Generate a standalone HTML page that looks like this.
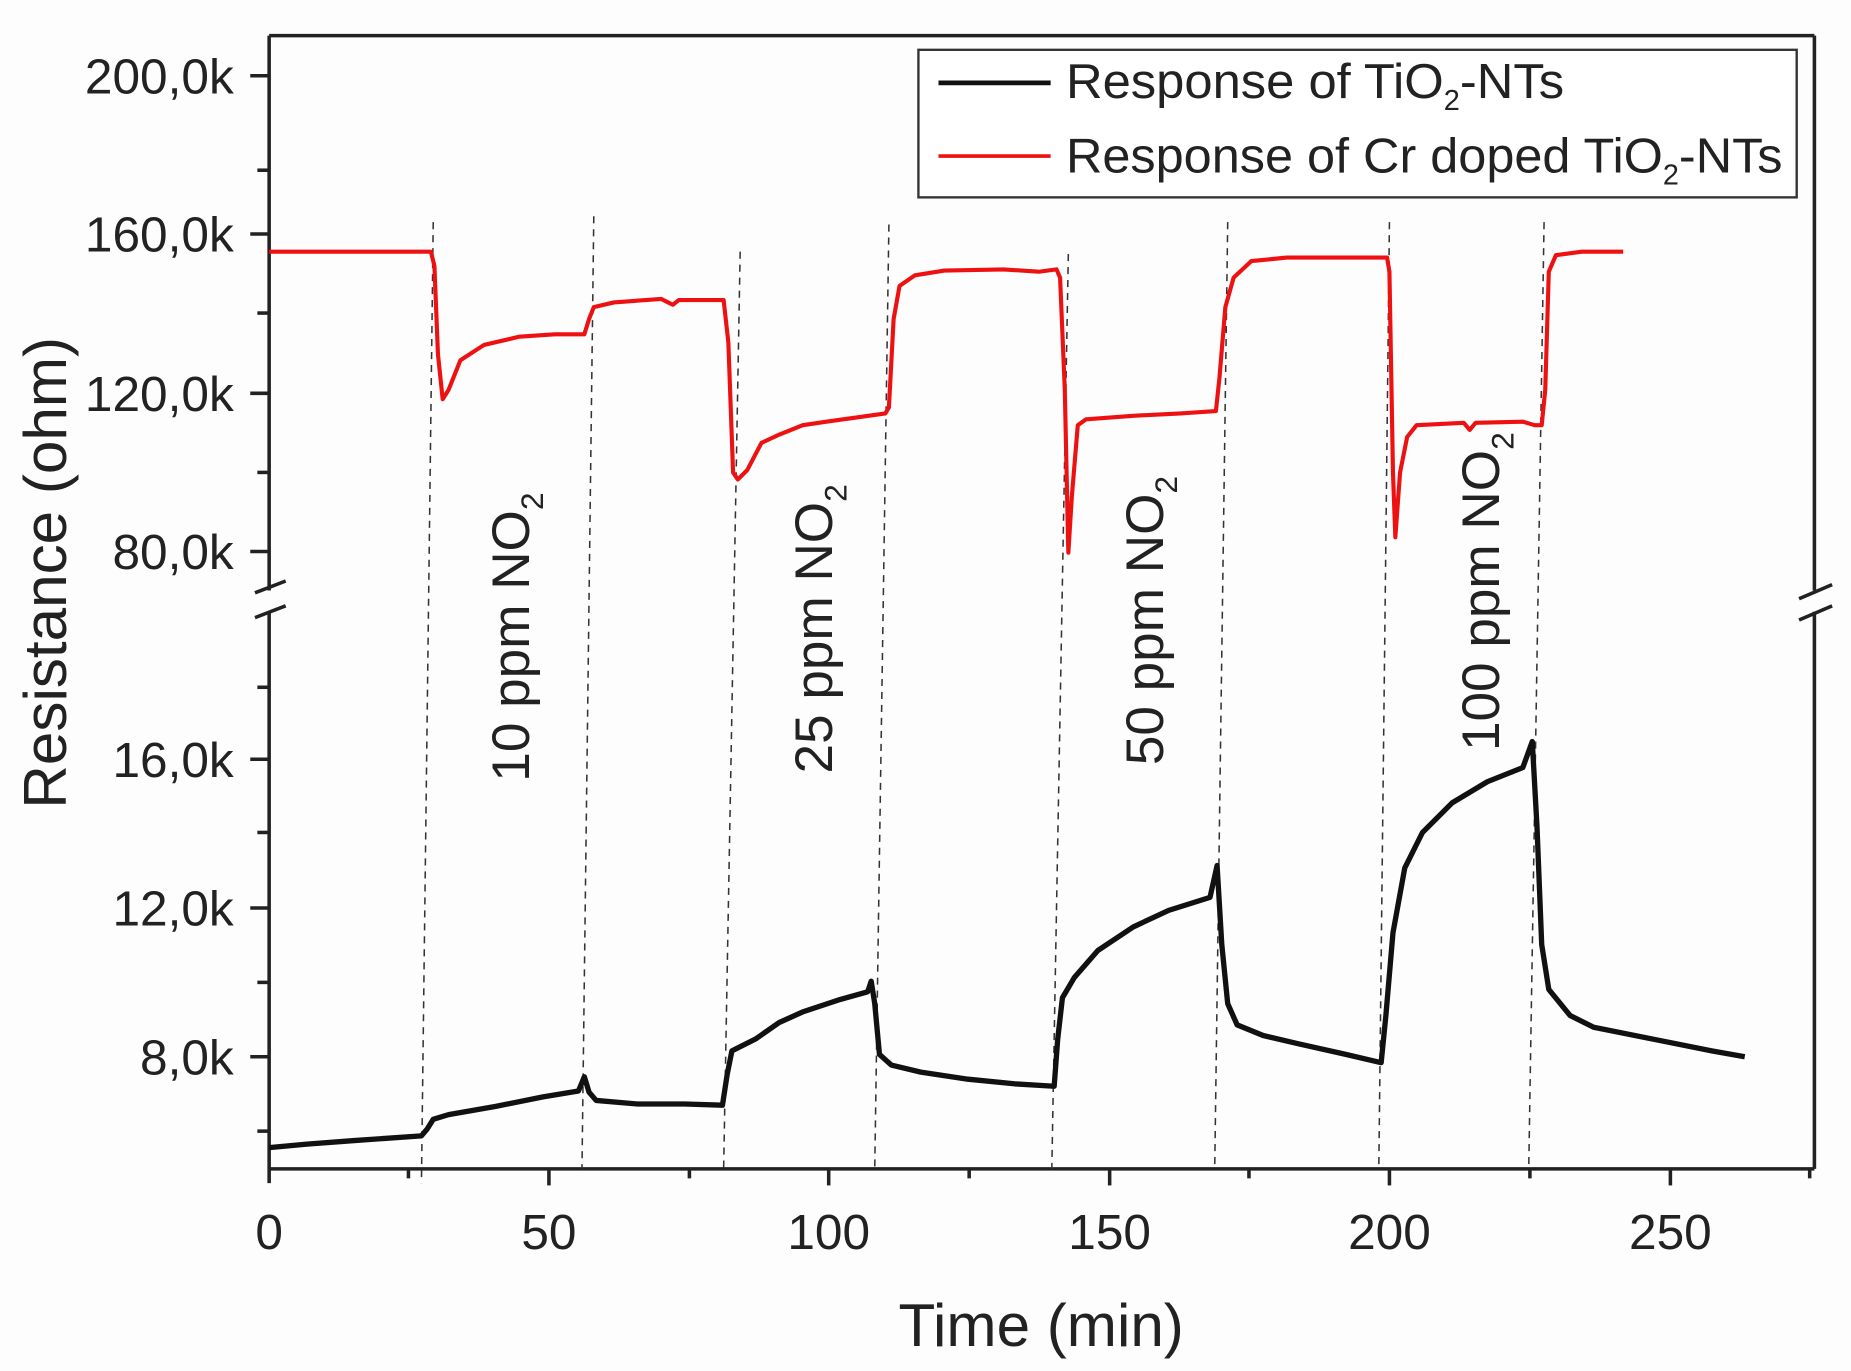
<!DOCTYPE html>
<html><head><meta charset="utf-8"><style>
html,body{margin:0;padding:0;background:#fdfdfd;}
svg{display:block;}
text{font-family:"Liberation Sans",Arial,sans-serif;fill:#222;}
</style></head><body>
<svg width="1851" height="1371" viewBox="0 0 1568 1161" xmlns="http://www.w3.org/2000/svg">
<rect x="0" y="0" width="1568" height="1161" fill="#fdfdfd"/>
<g stroke="#222" stroke-width="3" fill="none">
<line x1="228" y1="30" x2="1537" y2="30"/>
<line x1="228" y1="990" x2="1537" y2="990"/>
<line x1="228" y1="30" x2="228" y2="500"/>
<line x1="228" y1="518" x2="228" y2="1002"/>
<line x1="1537" y1="30" x2="1537" y2="500"/>
<line x1="1537" y1="518" x2="1537" y2="990"/>
<line x1="216" y1="502" x2="242" y2="492"/>
<line x1="216" y1="523" x2="242" y2="513"/>
<line x1="1524" y1="507" x2="1552" y2="495"/>
<line x1="1524" y1="525" x2="1552" y2="513"/>
<line x1="212" y1="64" x2="228" y2="64"/>
<line x1="218" y1="144" x2="228" y2="144"/>
<line x1="212" y1="198" x2="228" y2="198"/>
<line x1="218" y1="265" x2="228" y2="265"/>
<line x1="212" y1="333" x2="228" y2="333"/>
<line x1="218" y1="400" x2="228" y2="400"/>
<line x1="212" y1="467" x2="228" y2="467"/>
<line x1="218" y1="582" x2="228" y2="582"/>
<line x1="212" y1="643" x2="228" y2="643"/>
<line x1="218" y1="705" x2="228" y2="705"/>
<line x1="212" y1="769" x2="228" y2="769"/>
<line x1="218" y1="832" x2="228" y2="832"/>
<line x1="212" y1="895" x2="228" y2="895"/>
<line x1="218" y1="958" x2="228" y2="958"/>
<line x1="465" y1="990" x2="465" y2="1004"/>
<line x1="702" y1="990" x2="702" y2="1004"/>
<line x1="940" y1="990" x2="940" y2="1004"/>
<line x1="1177" y1="990" x2="1177" y2="1004"/>
<line x1="1415" y1="990" x2="1415" y2="1004"/>
<line x1="346" y1="990" x2="346" y2="998"/>
<line x1="584" y1="990" x2="584" y2="998"/>
<line x1="821" y1="990" x2="821" y2="998"/>
<line x1="1058" y1="990" x2="1058" y2="998"/>
<line x1="1296" y1="990" x2="1296" y2="998"/>
<line x1="1533" y1="990" x2="1533" y2="998"/>
</g>
<g stroke="#333" stroke-width="1.3" stroke-dasharray="6,5" fill="none">
<line x1="367" y1="188" x2="357" y2="1002"/>
<line x1="503" y1="183" x2="493" y2="990"/>
<line x1="627" y1="213" x2="613" y2="990"/>
<line x1="753" y1="190" x2="741" y2="990"/>
<line x1="905" y1="215" x2="891" y2="990"/>
<line x1="1040" y1="188" x2="1029" y2="990"/>
<line x1="1177" y1="188" x2="1168" y2="990"/>
<line x1="1308" y1="188" x2="1295" y2="990"/>
</g>
<polyline fill="none" stroke="#ee1111" stroke-width="3.5" stroke-linejoin="round" points="228,213 365,213 368,225 371,300 375,338 380,330 390,305 410,292 440,285 470,283 495,283 499,270 503,260 520,256 560,253 570,258 575,254 613,254 617,290 621,400 625,406 633,398 645,375 660,368 680,360 700,357 750,350 753,345 757,270 762,242 775,233 800,229 850,228 880,230 895,228 898,235 902,330 905,468 908,420 913,360 920,355 960,352 1000,350 1030,348 1033,320 1038,260 1045,235 1060,221 1090,218 1175,218 1177,230 1180,400 1182,455 1186,400 1192,370 1200,360 1240,358 1245,364 1250,358 1290,357 1300,360 1306,360 1309,330 1312,230 1318,216 1340,213 1375,213"/>
<polyline fill="none" stroke="#111" stroke-width="4.5" stroke-linejoin="round" points="228,972 260,969 300,966 357,962 362,956 367,948 380,944 420,937 460,929 490,924 495,912 499,925 505,932 540,935 580,935 612,936 616,910 620,890 640,880 660,866 680,857 710,847 735,840 738,831 741,850 745,893 755,902 780,908 820,914 860,918 893,920 896,880 900,845 910,828 930,805 960,785 990,771 1025,760 1031,733 1035,800 1040,850 1048,868 1070,877 1100,884 1140,893 1170,900 1174,860 1180,790 1190,735 1205,705 1230,680 1260,662 1290,650 1298,628 1302,700 1306,800 1312,838 1330,860 1350,870 1400,880 1450,890 1478,895"/>
<rect x="778" y="42" width="744" height="125" fill="#fff" stroke="#333" stroke-width="2"/>
<line x1="795" y1="70" x2="890" y2="70" stroke="#111" stroke-width="4"/>
<line x1="795" y1="132" x2="890" y2="132" stroke="#ee1111" stroke-width="3"/>
<text x="903" y="83" font-size="42" textLength="422" lengthAdjust="spacingAndGlyphs">Response of TiO<tspan font-size="24" dy="10">2</tspan><tspan dy="-10">-NTs</tspan></text>
<text x="903" y="146" font-size="42" textLength="607" lengthAdjust="spacingAndGlyphs">Response of Cr doped TiO<tspan font-size="24" dy="10">2</tspan><tspan dy="-10">-NTs</tspan></text>
<g font-size="42" text-anchor="end">
<text x="198" y="79">200,0k</text>
<text x="198" y="213">160,0k</text>
<text x="198" y="348">120,0k</text>
<text x="198" y="482">80,0k</text>
<text x="198" y="658">16,0k</text>
<text x="198" y="784">12,0k</text>
<text x="198" y="910">8,0k</text>
</g>
<g font-size="42" text-anchor="middle">
<text x="228" y="1058">0</text>
<text x="465" y="1058">50</text>
<text x="702" y="1058">100</text>
<text x="940" y="1058">150</text>
<text x="1177" y="1058">200</text>
<text x="1415" y="1058">250</text>
</g>
<text x="882" y="1140" font-size="51" text-anchor="middle">Time (min)</text>
<text transform="translate(56,485) rotate(-90)" font-size="51" text-anchor="middle">Resistance (ohm)</text>
<g font-size="45">
<text transform="translate(448,662) rotate(-90)">10 ppm NO<tspan font-size="27" dy="12">2</tspan></text>
<text transform="translate(705,655) rotate(-90)">25 ppm NO<tspan font-size="27" dy="12">2</tspan></text>
<text transform="translate(985,648) rotate(-90)">50 ppm NO<tspan font-size="27" dy="12">2</tspan></text>
<text transform="translate(1270,636) rotate(-90)">100 ppm NO<tspan font-size="27" dy="12">2</tspan></text>
</g>
</svg>
</body></html>
